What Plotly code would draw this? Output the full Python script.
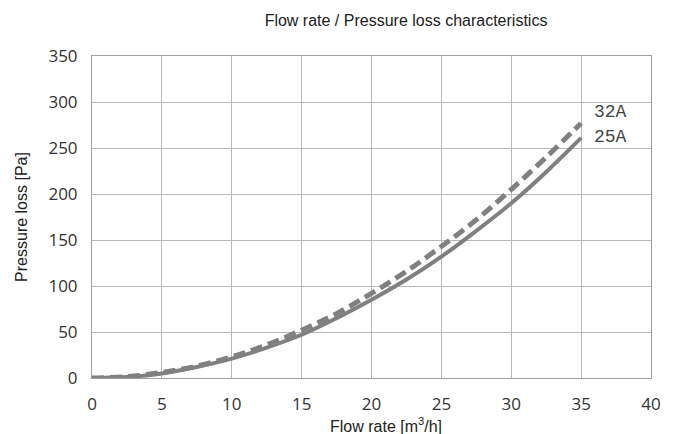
import plotly.graph_objects as go

flow = [0, 2.5, 5, 7.5, 10, 12.5, 15, 17.5, 20, 22.5, 25, 27.5, 30, 32.5, 35]
loss_25a = [0, 1, 5, 12, 21, 33, 47, 65, 85, 107, 132, 160, 190, 224, 261]
loss_32a = [0, 1.5, 6, 13, 23, 36, 52, 70, 92, 116, 143, 172, 205, 240, 277]

x_ticks = [0, 5, 10, 15, 20, 25, 30, 35, 40]
y_ticks = [0, 50, 100, 150, 200, 250, 300, 350]

line_color = "#808080"

fig = go.Figure()
fig.add_trace(go.Scatter(x=flow, y=loss_25a, mode="lines", name="25A",
                         line=dict(color=line_color, width=4, shape="spline")))
fig.add_trace(go.Scatter(x=flow, y=loss_32a, mode="lines", name="32A",
                         line=dict(color=line_color, width=5, dash="12px,6px", shape="spline")))

# series labels at the line ends
fig.add_annotation(x=flow[-1], y=289, text="32A", showarrow=False,
                   xanchor="left", xshift=11, font=dict(family="Liberation Mono", size=18, color="#444"))
fig.add_annotation(x=flow[-1], y=262, text="25A", showarrow=False,
                   xanchor="left", xshift=11, font=dict(family="Liberation Mono", size=18, color="#444"))

# x title sits a little right of the plot centre in the original
fig.add_annotation(x=0.5255, y=0, xref="paper", yref="paper", yshift=-47, yanchor="middle",
                   text="Flow rate [m<sup>3</sup>/h]", showarrow=False,
                   font=dict(family="Liberation Sans", size=16, color="#222"))

# the page body adds an 8px offset, so the figure is narrowed and margins shifted
fig.update_layout(
    width=665, height=434,
    paper_bgcolor="white", plot_bgcolor="white",
    margin=dict(l=84, r=12, t=48, b=64),
    showlegend=False,
    title=dict(text="Flow rate / Pressure loss characteristics", x=0.5985, xanchor="center",
               y=0.972, yanchor="middle",
               font=dict(family="Liberation Sans", size=16, color="#222")),
    font=dict(family="Liberation Sans", color="#333"),
)
fig.update_xaxes(range=[0, 40], tickvals=x_ticks, showgrid=True, gridcolor="#b8b8b8", gridwidth=1,
                 showline=True, linecolor="#a0a0a0", mirror=True, zeroline=False, ticks="",
                 ticklabelstandoff=11,
                 tickfont=dict(family="Open Sans", size=17, color="#333"))
fig.update_yaxes(range=[0, 350], tickvals=y_ticks, showgrid=True, gridcolor="#b8b8b8", gridwidth=1,
                 showline=True, linecolor="#a0a0a0", mirror=True, zeroline=False, ticks="",
                 ticklabelstandoff=10,
                 tickfont=dict(family="Open Sans", size=17, color="#333"),
                 title=dict(text="Pressure loss [Pa]", standoff=16,
                            font=dict(family="Liberation Sans", size=16, color="#222")))

fig.write_html("out.html", config={"displayModeBar": False})
